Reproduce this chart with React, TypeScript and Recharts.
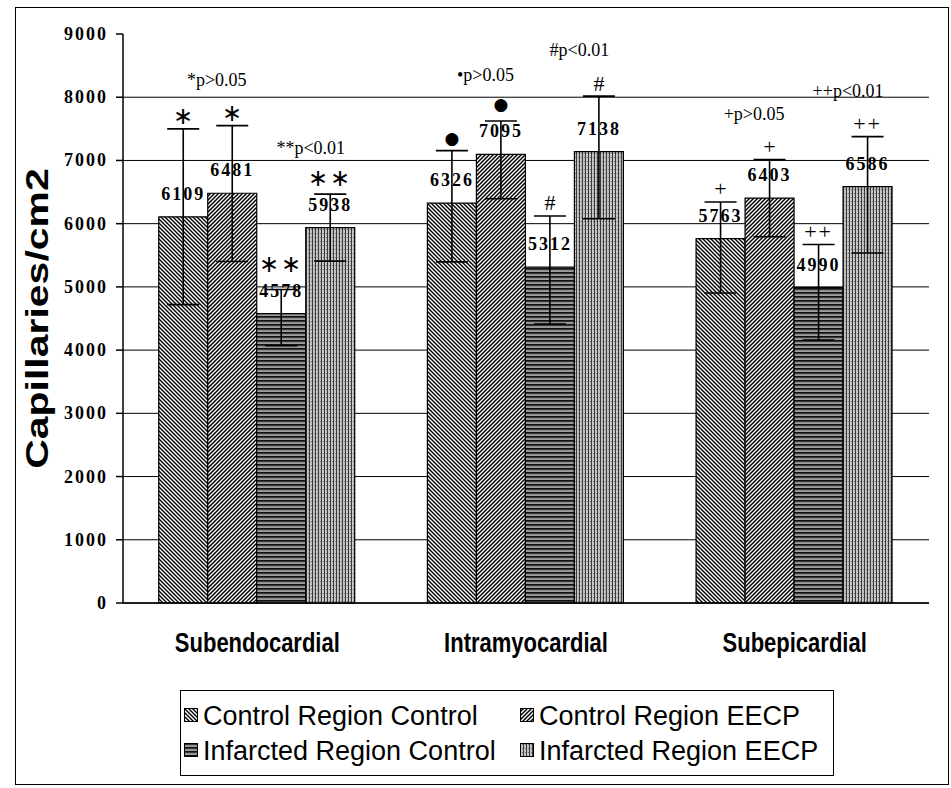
import React from 'react';
import {
  BarChart,
  Bar,
  XAxis,
  YAxis,
  CartesianGrid,
  ErrorBar,
  LabelList
} from 'recharts';

// categories and values
const categories = ['Subendocardial', 'Intramyocardial', 'Subepicardial'];
const ctrlControl = [6109, 6326, 5763];
const ctrlEecp = [6481, 7095, 6403];
const infControl = [4578, 5312, 4990];
const infEecp = [5938, 7138, 6586];

// error bar deltas [minus, plus]
const ctrlControlErr = [[1390, 1390], [930, 830], [860, 580]];
const ctrlEecpErr = [[1080, 1070], [700, 530], [610, 610]];
const infControlErr = [[510, 380], [900, 810], [830, 680]];
const infEecpErr = [[530, 530], [1060, 880], [1050, 790]];

// significance marks
const ctrlControlSym = ['∗', '●', '+'];
const ctrlEecpSym = ['∗', '●', '+'];
const infControlSym = ['∗∗', '#', '++'];
const infEecpSym = ['∗∗', '#', '++'];
const ctrlPairNotes = ['*p>0.05', '•p>0.05', '+p>0.05'];
const infPairNotes = ['**p<0.01', '#p<0.01', '++p<0.01'];

const yTicks = [0, 1000, 2000, 3000, 4000, 5000, 6000, 7000, 8000, 9000];
const gridValues = [0, 1000, 2000, 3000, 4000, 5000, 6000, 7000, 8000];

const series = [
  { key: 'cc', name: 'Control Region Control', values: ctrlControl, errs: ctrlControlErr, sym: ctrlControlSym, pat: 'patCC' },
  { key: 'ce', name: 'Control Region EECP', values: ctrlEecp, errs: ctrlEecpErr, sym: ctrlEecpSym, pat: 'patCE' },
  { key: 'ic', name: 'Infarcted Region Control', values: infControl, errs: infControlErr, sym: infControlSym, pat: 'patIC' },
  { key: 'ie', name: 'Infarcted Region EECP', values: infEecp, errs: infEecpErr, sym: infEecpSym, pat: 'patIE' }
];

// partner series + note for p-value texts
const pairNotes: Record<number, { partner: number; notes: string[]; dx: number }> = {
  1: { partner: 0, notes: ctrlPairNotes, dx: 9 },
  3: { partner: 2, notes: infPairNotes, dx: 5 }
};

const data = categories.map((name, i) => {
  const row: any = { name };
  series.forEach((s) => {
    row[s.key] = s.values[i];
    row[s.key + 'Err'] = s.errs[i];
  });
  return row;
});

const SERIF = '"Liberation Serif", "Times New Roman", serif';
const SANS = '"Liberation Sans", Arial, sans-serif';

const Patterns = () => (
  <defs>
    <pattern id="patCC" patternUnits="userSpaceOnUse" width="4" height="4">
      <rect width="4" height="4" fill="#fff" />
      <path d="M-1,-1 L5,5 M-1,3 L1,5 M3,-1 L5,1" stroke="#000" strokeWidth="1.4" />
    </pattern>
    <pattern id="patCE" patternUnits="userSpaceOnUse" width="4" height="4">
      <rect width="4" height="4" fill="#fff" />
      <path d="M-1,5 L5,-1 M-1,1 L1,-1 M3,5 L5,3" stroke="#000" strokeWidth="1.5" />
    </pattern>
    <pattern id="patIC" patternUnits="userSpaceOnUse" width="6" height="4">
      <rect width="6" height="4" fill="#d8d8d8" />
      <rect y="0" width="6" height="1.8" fill="#111" />
      <rect y="2.5" width="6" height="0.9" fill="#444" />
    </pattern>
    <pattern id="patIE" patternUnits="userSpaceOnUse" width="3" height="4">
      <rect width="3" height="4" fill="#c4c4c4" />
      <rect x="0" width="1" height="4" fill="#3a3a3a" />
      <rect x="2" y="1" width="1" height="1" fill="#777" />
    </pattern>
  </defs>
);

const makeLabel = (si: number) => (props: any) => {
  const vb = props.viewBox || {};
  const x = props.x ?? vb.x;
  const y = props.y ?? vb.y;
  const width = props.width ?? vb.width;
  const height = props.height ?? vb.height;
  const i = props.index;
  const s = series[si];
  const v = s.values[i];
  const k = height / v;
  const base = y + height;
  const toPx = (val: number) => base - val * k;
  const cx = x + width / 2;
  const errTop = toPx(v + s.errs[i][1]);
  const labelBase = y - 17;
  const symY = Math.min(errTop, labelBase - 20) - 13;
  const sym = s.sym[i];
  const isDot = sym === '●';
  const pair = pairNotes[si];
  let note = null;
  if (pair) {
    const p = series[pair.partner];
    const partnerTop = toPx(p.values[i] + p.errs[i][1]);
    const top = Math.min(errTop, partnerTop);
    note = (
      <text x={x + pair.dx} y={top - 40} textAnchor="middle" fontFamily={SERIF} fontSize={18} fill="#000">
        {pair.notes[i]}
      </text>
    );
  }
  return (
    <g>
      <text x={cx} y={labelBase} textAnchor="middle" fontFamily={SERIF} fontWeight="bold" fontSize={18} letterSpacing={2} fill="#000">
        {v}
      </text>
      <text
        x={cx}
        y={symY}
        textAnchor="middle"
        dominantBaseline="central"
        fontFamily={isDot ? '"DejaVu Sans", sans-serif' : SERIF}
        fontSize={isDot ? 17 : sym.startsWith('∗') ? 24 : 22}
        letterSpacing={sym.length > 1 ? 2 : 0}
        fill="#000"
      >
        {sym}
      </text>
      {note}
    </g>
  );
};

const CategoryTick = (props: any) => {
  const { x, y, payload } = props;
  return (
    <g transform={`translate(${x},${y + 49}) scale(1,1.25)`}>
      <text textAnchor="middle" fontFamily={SANS} fontWeight="bold" fontSize={22} fill="#000">
        {payload.value}
      </text>
    </g>
  );
};

const ValueTick = (props: any) => {
  const { x, y, payload } = props;
  return (
    <text x={x} y={y} dy={6} textAnchor="end" fontFamily={SERIF} fontWeight="bold" fontSize={18} letterSpacing={2} fill="#000">
      {payload.value}
    </text>
  );
};

const YTitle = (props: any) => {
  const vb = props.viewBox || { x: 0, y: 34, height: 569 };
  const cy = vb.y + vb.height / 2;
  return (
    <text
      transform={`translate(${vb.x + 48},${cy}) rotate(-90) scale(1.28,1)`}
      textAnchor="middle"
      fontFamily={SANS}
      fontWeight="bold"
      fontSize={32}
      fill="#000"
    >
      Capillaries/cm2
    </text>
  );
};

const gridCoords = (args: any) => {
  const { yAxis, offset } = args || {};
  if (yAxis && typeof yAxis.scale === 'function') {
    return gridValues.map((v) => yAxis.scale(v));
  }
  return gridValues.map((v) => offset.top + offset.height * (1 - v / 9000));
};

const LegendBox = () => (
  <div
    style={{
      position: 'absolute',
      left: 180,
      top: 690,
      width: 654,
      height: 86,
      border: '1px solid #000',
      boxSizing: 'border-box',
      fontFamily: SANS,
      fontSize: 27,
      color: '#000',
      display: 'grid',
      gridTemplateColumns: '336px 318px',
      alignContent: 'center',
      rowGap: 3
    }}
  >
    {series.map((s) => (
      <div key={s.key} style={{ display: 'flex', alignItems: 'center', whiteSpace: 'nowrap', paddingLeft: 3, lineHeight: '32px' }}>
        <svg width={15} height={15} style={{ marginRight: 4, flex: 'none' }}>
          <Patterns />
          <rect x={0.5} y={0.5} width={13} height={13} fill={`url(#${s.pat})`} stroke="#000" />
        </svg>
        {s.name}
      </div>
    ))}
  </div>
);

export default function App() {
  return (
    <div style={{ position: 'absolute', left: 0, top: 0, width: 951, height: 788, background: '#fff' }}>
      <div
        style={{
          position: 'absolute',
          left: 15,
          top: 7,
          width: 934,
          height: 778,
          border: '1px solid #000',
          boxSizing: 'border-box'
        }}
      />
      <div style={{ position: 'absolute', left: 0, top: 0 }}>
        <BarChart
          width={951}
          height={788}
          data={data}
          margin={{ top: 34, right: 22, left: 0, bottom: 0 }}
          barCategoryGap="13.3%"
          barGap={0}
        >
          <Patterns />
          <CartesianGrid
            vertical={false}
            stroke="#000"
            strokeWidth={1}
            horizontalCoordinatesGenerator={gridCoords}
          />
          <XAxis
            dataKey="name"
            axisLine={{ stroke: '#000', strokeWidth: 1.5 }}
            tickLine={false}
            tickSize={0}
            tickMargin={0}
            height={185}
            tick={<CategoryTick />}
            interval={0}
          />
          <YAxis
            domain={[0, 9000]}
            ticks={yTicks}
            width={123}
            axisLine={{ stroke: '#000', strokeWidth: 1.5 }}
            tickLine={{ stroke: '#000', strokeWidth: 1.5 }}
            tickSize={7}
            tickMargin={8}
            tick={<ValueTick />}
            interval={0}
            label={{ content: <YTitle /> }}
          />
          {series.map((s, si) => (
            <Bar
              key={s.key}
              dataKey={s.key}
              name={s.name}
              fill={`url(#${s.pat})`}
              stroke="#000"
              strokeWidth={1.2}
              isAnimationActive={false}
            >
              <ErrorBar dataKey={s.key + 'Err'} width={16} stroke="#000" strokeWidth={1.6} direction="y" />
              <LabelList dataKey={s.key} content={makeLabel(si)} />
            </Bar>
          ))}
        </BarChart>
      </div>
      <LegendBox />
    </div>
  );
}
